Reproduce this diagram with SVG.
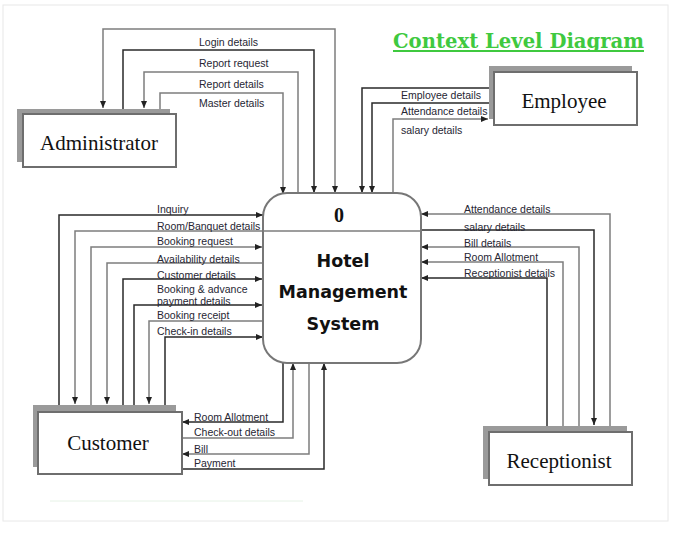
<svg xmlns="http://www.w3.org/2000/svg" width="676" height="533" viewBox="0 0 676 533">
<style>
.c{fill:none;stroke-width:1.5;marker-end:url(#ah)}
.d{stroke:#2a2a2a}
.g{stroke:#7d7d7d}
.lbl{font-family:"Liberation Sans",Arial,sans-serif;font-size:10.5px;fill:#262633}
.ent{font-family:"Liberation Serif","Times New Roman",serif;font-size:21px;fill:#111;text-anchor:middle}
.sh{fill:#9a9a9a}
.box{fill:#fff;stroke:#6e6e6e;stroke-width:2}
.pt{font-family:"DejaVu Sans",Verdana,sans-serif;font-weight:bold;font-size:17.5px;fill:#111;text-anchor:middle}
</style>
<defs>
<marker id="ah" markerUnits="userSpaceOnUse" markerWidth="7" markerHeight="6" refX="7" refY="3" orient="auto-start-reverse">
<path d="M0,0 L7,3 L0,6 z" fill="#222"/>
</marker>
</defs>
<rect x="0" y="0" width="676" height="533" fill="#fff"/>
<rect x="3" y="5" width="665" height="516" fill="none" stroke="#e8e8e8" stroke-width="1"/>
<line x1="50" y1="501" x2="303" y2="501" stroke="#e6f2e6" stroke-width="1"/>
<g id="title">
<text x="393" y="48" textLength="251" lengthAdjust="spacingAndGlyphs" font-family="'DejaVu Serif','Liberation Serif',serif" font-weight="bold" font-size="20.5" fill="#3fc93f">Context Level Diagram</text>
<line x1="393" y1="51" x2="644" y2="51" stroke="#3fc93f" stroke-width="2"/>
</g>
<g id="connectors">
<path class="c g" d="M103,108 V29 H335 V193" marker-start="url(#ah)"/>
<path class="c d" d="M123,109 V50 H314 V193"/>
<path class="c g" d="M298,193 V72 H144 V108"/>
<path class="c g" d="M160,109 V93 H283 V194"/>
<path class="c d" d="M489,88 H362 V193"/>
<path class="c d" d="M489,103 H372 V193"/>
<path class="c g" d="M393,193 V119 H488"/>
<path class="c g" d="M610,426 V214 H421"/>
<path class="c d" d="M421,230 H594 V425"/>
<path class="c g" d="M579,426 V247 H421"/>
<path class="c g" d="M563,426 V262 H421"/>
<path class="c d" d="M547,426 V278 H421"/>
<path class="c d" d="M59,405 V215 H263"/>
<path class="c g" d="M263,231 H75 V404"/>
<path class="c g" d="M91,405 V247 H262"/>
<path class="c g" d="M263,263 H107 V404"/>
<path class="c d" d="M123,405 V279 H262"/>
<path class="c d" d="M134,405 V305 H262"/>
<path class="c g" d="M263,321 H149 V404"/>
<path class="c d" d="M165,405 V337 H263"/>
<path class="c d" d="M283,363 V422 H182"/>
<path class="c g" d="M182,438 H293 V363"/>
<path class="c g" d="M309,363 V454 H182"/>
<path class="c d" d="M182,469 H324 V363"/>
<text class="lbl" x="199" y="46">Login details</text>
<text class="lbl" x="199" y="67">Report request</text>
<text class="lbl" x="199" y="88">Report details</text>
<text class="lbl" x="199" y="107">Master details</text>
<text class="lbl" x="401" y="99">Employee details</text>
<text class="lbl" x="401" y="115">Attendance details</text>
<text class="lbl" x="401" y="134">salary details</text>
<text class="lbl" x="464" y="213">Attendance details</text>
<text class="lbl" x="464" y="231">salary details</text>
<text class="lbl" x="464" y="247">Bill details</text>
<text class="lbl" x="464" y="261">Room Allotment</text>
<text class="lbl" x="464" y="277">Receptionist details</text>
<text class="lbl" x="157" y="213">Inquiry</text>
<text class="lbl" x="157" y="230">Room/Banquet details</text>
<text class="lbl" x="157" y="245">Booking request</text>
<text class="lbl" x="157" y="263">Availability details</text>
<text class="lbl" x="157" y="279">Customer details</text>
<text class="lbl" x="157" y="293">Booking &amp; advance</text>
<text class="lbl" x="157" y="305">payment details</text>
<text class="lbl" x="157" y="319">Booking receipt</text>
<text class="lbl" x="157" y="335">Check-in details</text>
<text class="lbl" x="194" y="421">Room Allotment</text>
<text class="lbl" x="194" y="436">Check-out details</text>
<text class="lbl" x="194" y="453">Bill</text>
<text class="lbl" x="194" y="467">Payment</text>
</g>
<g id="process">
<rect x="263" y="193" width="158" height="170" rx="24" ry="24" fill="#fff" stroke="#777" stroke-width="2"/>
<line x1="263" y1="231" x2="421" y2="231" stroke="#7d7d7d" stroke-width="1.5"/>
<text x="339" y="222" font-family="'Liberation Serif',serif" font-weight="bold" font-size="20" fill="#111" text-anchor="middle">0</text>
<text class="pt" x="343" y="267">Hotel</text>
<text class="pt" x="343" y="298">Management</text>
<text class="pt" x="343" y="330">System</text>
</g>
<g id="administrator">
<rect class="sh" x="17" y="109" width="153" height="53"/>
<rect class="box" x="23" y="114" width="153" height="53"/>
<text class="ent" x="99" y="150">Administrator</text>
</g>
<g id="employee">
<rect class="sh" x="489" y="66" width="143" height="53"/>
<rect class="box" x="494" y="72" width="143" height="53"/>
<text class="ent" x="564" y="108">Employee</text>
</g>
<g id="customer">
<rect class="sh" x="33" y="405" width="143" height="62"/>
<rect class="box" x="38" y="412" width="144" height="62"/>
<text class="ent" x="108" y="450">Customer</text>
</g>
<g id="receptionist">
<rect class="sh" x="483" y="426" width="144" height="53"/>
<rect class="box" x="489" y="432" width="143" height="53"/>
<text class="ent" x="559" y="468">Receptionist</text>
</g>
</svg>
